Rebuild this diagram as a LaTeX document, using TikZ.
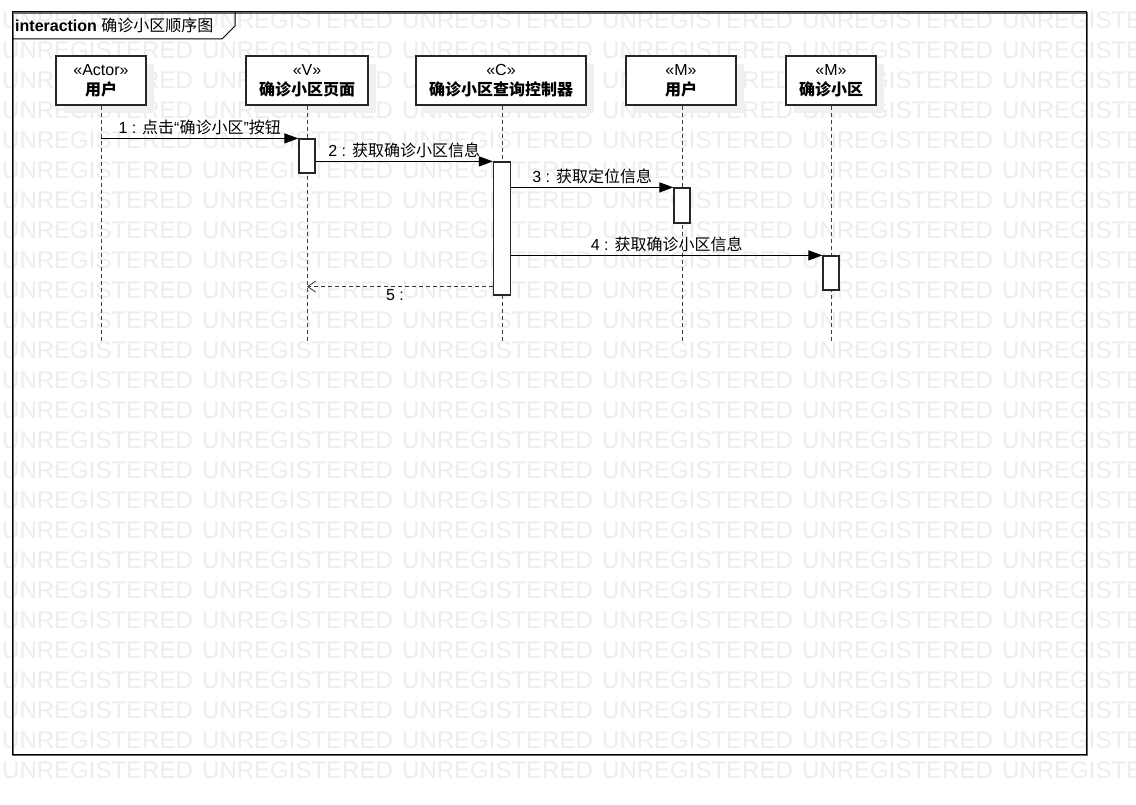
\documentclass[tikz,border=0pt]{standalone}
\usepackage{fontspec}
\setmainfont{Liberation Sans}
\newfontfamily\cjk{Noto Sans CJK SC}
\usetikzlibrary{arrows.meta}
\newcommand{\zh}[1]{{\cjk #1}}
\begin{document}
\begin{tikzpicture}[x=1pt,y=-1pt,
  wm/.style={anchor=west,inner sep=0pt,text=black!7,font=\fontsize{24}{24}\selectfont},
  lbox/.style={draw=black!85,line width=1.3pt,fill=white,align=center,inner sep=0pt,
    font=\fontsize{16}{20}\selectfont},
  lifeline/.style={draw=black!75,line width=1pt,dash pattern=on 4pt off 3pt},
  act/.style={draw=black!85,line width=1.2pt,fill=white,minimum width=16,inner sep=0pt},
  msg/.style={draw=black,line width=1pt,-{Triangle[length=14pt,width=10pt]}},
  ret/.style={draw=black!80,line width=1pt,dash pattern=on 4pt off 3pt,-{Straight Barb[length=8pt,width=11pt,line width=0.8pt]}},
  lbl/.style={font=\fontsize{16}{18}\selectfont,inner sep=1pt}
]
\useasboundingbox (0,0) rectangle (1136,805);
\fill[white] (0,0) rectangle (1136,805);
% watermark
\begin{scope}
\clip (0,0) rectangle (1136,805);
\foreach \r in {0,...,25}{
  \foreach \c in {0,...,5}{
    \node[wm] at ({\c*200+2},{20+\r*30}) {UNREGISTERED};
  }
}
\end{scope}
% frame
\draw[black!60,line width=1.2pt] (13,13) rectangle (1087,755);
\draw[black,line width=1pt] (12,12) rectangle (1086,754);
\draw[black,line width=1pt] (12,39) -- (222,39) -- (235,26) -- (235,12);
\node[anchor=west,inner sep=0pt,font=\fontsize{16}{18}\selectfont] (title) at (15,25) {\textbf{interaction} \zh{确诊小区顺序图}};
% shadows
\fill[black!6] (64,64) rectangle (154,113);
\fill[black!6] (254,64) rectangle (376,113);
\fill[black!6] (424,64) rectangle (594,113);
\fill[black!6] (634,64) rectangle (744,113);
\fill[black!6] (794,64) rectangle (884,113);
% lifeline heads
\node[lbox,minimum width=90,minimum height=49] (a) at (101,80.5) {«Actor»\\\zh{\bfseries 用户}};
\node[lbox,minimum width=122,minimum height=49] (v) at (307,80.5) {«V»\\\zh{\bfseries 确诊小区页面}};
\node[lbox,minimum width=170,minimum height=49] (c) at (501,80.5) {«C»\\\zh{\bfseries 确诊小区查询控制器}};
\node[lbox,minimum width=110,minimum height=49] (m1) at (681,80.5) {«M»\\\zh{\bfseries 用户}};
\node[lbox,minimum width=90,minimum height=49] (m2) at (831,80.5) {«M»\\\zh{\bfseries 确诊小区}};
% lifeline ends
\coordinate (ae) at (101,342);
\coordinate (ve) at (307,342);
\coordinate (ce) at (502,342);
\coordinate (m1e) at (682,342);
\coordinate (m2e) at (831,342);
\draw[lifeline] (a.south) -- (ae);
\draw[lifeline] (v.south) -- (v.south |- ve);
\draw[lifeline] (c.south -| ce) -- (ce);
\draw[lifeline] (m1.south -| m1e) -- (m1e);
\draw[lifeline] (m2.south) -- (m2e);
% activations
\node[act,minimum height=34] (va) at (307,156) {};
\node[act,minimum width=17,minimum height=133] (ca) at (502,228.5) {};
\node[act,minimum height=35] (m1a) at (682,205.5) {};
\node[act,minimum height=34] (m2a) at (831,273) {};
% messages
\draw[msg] (a.south |- va.north) -- node[lbl,above=2pt]{1 : \zh{点击}“\zh{确诊小区}”\zh{按钮}} (va.north west);
\draw[msg] (va.east |- ca.north) -- node[lbl,above=2pt]{2 : \zh{获取确诊小区信息}} (ca.north west);
\draw[msg] (ca.east |- m1a.north) -- node[lbl,above=2pt]{3 : \zh{获取定位信息}} (m1a.north west);
\draw[msg] (ca.east |- m2a.north) -- node[lbl,above=2pt]{4 : \zh{获取确诊小区信息}} (m2a.north west);
\coordinate (r5) at ([yshift=9pt]ca.south west);
\draw[ret] (r5) -- node[lbl,below=1pt,xshift=-5pt]{5 :} (v.south |- r5);
\end{tikzpicture}
\end{document}
